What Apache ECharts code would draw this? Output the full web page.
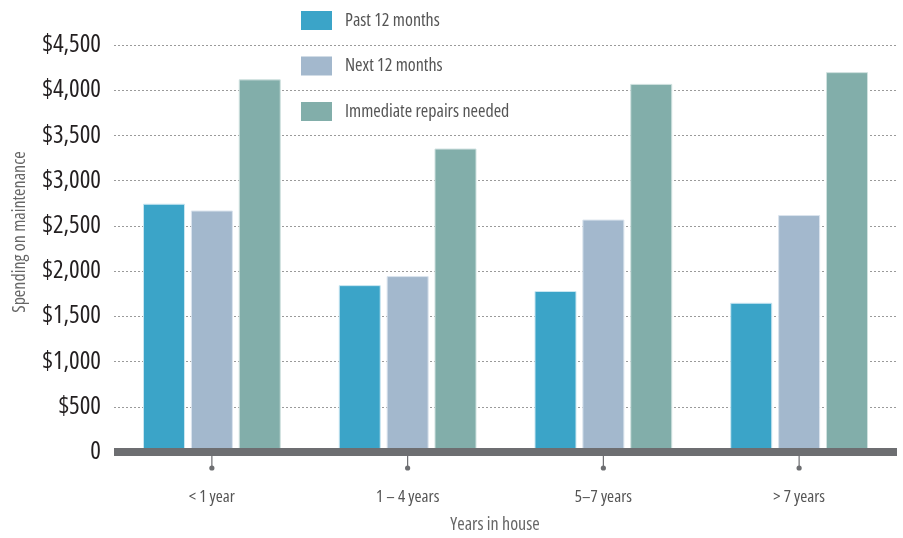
<!DOCTYPE html>
<html>
<head>
<meta charset="utf-8">
<style>
  html, body { margin: 0; padding: 0; background: #fff; }
  #chart { width: 903px; height: 538px; }
</style>
<script src="https://cdn.jsdelivr.net/npm/echarts@6/dist/echarts.min.js"></script>
</head>
<body>
<div id="chart"></div>
<script>
// Average maintenance spending by time lived in the house
const categories = ['< 1 year', '1 – 4 years', '5–7 years', '> 7 years'];
const seriesNames = ['Past 12 months', 'Next 12 months', 'Immediate repairs needed'];
const pastSpending = [2745, 1845, 1780, 1650];
const nextSpending = [2670, 1945, 2570, 2620];
const immediateRepairs = [4120, 3355, 4070, 4200];
const yTicks = [0, 500, 1000, 1500, 2000, 2500, 3000, 3500, 4000, 4500];

// condensed face of Open Sans, selected through the font-stretch keyword
const FONT = '"Open Sans", "DejaVu Sans Condensed", sans-serif';
const STRETCH = 'condensed';
const colors = ['#3ba4c8', '#a3b8cd', '#82aeaa'];
const edges = ['#c9e6f1', '#dbe4ee', '#cfe1df'];

const chart = echarts.init(document.getElementById('chart'));

function barSeries(name, data, i) {
  return {
    name: name,
    type: 'bar',
    data: data,
    barWidth: 42,
    barGap: '14%',
    itemStyle: { color: colors[i], borderColor: edges[i], borderWidth: 1 },
    emphasis: { disabled: true }
  };
}

chart.setOption({
  animation: false,
  grid: { left: 114, right: 6, top: 45, bottom: 86, containLabel: false },
  legend: {
    data: seriesNames,
    orient: 'vertical',
    left: 301,
    top: 11,
    padding: 0,
    itemWidth: 31,
    itemHeight: 19,
    itemGap: 26.5,
    icon: 'rect',
    selectedMode: false,
    itemStyle: { borderWidth: 0 },
    textStyle: { fontFamily: FONT, fontWeight: STRETCH, fontSize: 18, color: '#555', padding: [0, 0, 0, 8] }
  },
  xAxis: {
    type: 'category',
    data: categories,
    z: 5,
    axisLine: { show: true, lineStyle: { color: '#6d6e71', width: 8, cap: 'butt' } },
    axisTick: { show: false },
    axisLabel: { margin: 37, fontFamily: FONT, fontWeight: STRETCH, fontSize: 17, color: '#555' },
    splitLine: { show: false }
  },
  yAxis: {
    type: 'value',
    min: yTicks[0],
    max: yTicks[yTicks.length - 1],
    interval: 500,
    axisLine: { show: false },
    axisTick: { show: false },
    axisLabel: {
      margin: 13,
      fontFamily: FONT,
      fontWeight: STRETCH,
      fontSize: 25,
      color: '#231f20',
      formatter: v => v === 0 ? '0' : '$' + v.toLocaleString('en-US')
    },
    splitLine: { show: true, lineStyle: { color: '#9a9a9a', type: [2, 2], width: 1 } }
  },
  series: [
    barSeries(seriesNames[0], pastSpending, 0),
    barSeries(seriesNames[1], nextSpending, 1),
    barSeries(seriesNames[2], immediateRepairs, 2),
    {
      // stem-and-dot tick marks under each category
      type: 'custom',
      silent: true,
      clip: false,
      z: 6,
      data: categories.map((c, i) => [i, 0]),
      encode: { x: 0, y: 1 },
      renderItem: function (params, api) {
        const p = api.coord([api.value(0), 0]);
        return {
          type: 'group',
          children: [
            { type: 'line', shape: { x1: p[0], y1: p[1] + 4, x2: p[0], y2: p[1] + 15 },
              style: { stroke: '#6d6e71', lineWidth: 1.2 } },
            { type: 'circle', shape: { cx: p[0], cy: p[1] + 16, r: 2.6 },
              style: { fill: '#6d6e71' } }
          ]
        };
      }
    }
  ],
  graphic: [
    {
      type: 'text',
      x: 20, y: 232,
      rotation: Math.PI / 2,
      style: {
        text: 'Spending on maintenance',
        fontFamily: FONT, fontWeight: STRETCH, fontSize: 18, fill: '#666',
        align: 'center', verticalAlign: 'middle'
      }
    },
    {
      type: 'text',
      x: 495, y: 525,
      style: {
        text: 'Years in house',
        fontFamily: FONT, fontWeight: STRETCH, fontSize: 18, fill: '#666',
        align: 'center', verticalAlign: 'middle'
      }
    }
  ]
});
</script>
</body>
</html>
